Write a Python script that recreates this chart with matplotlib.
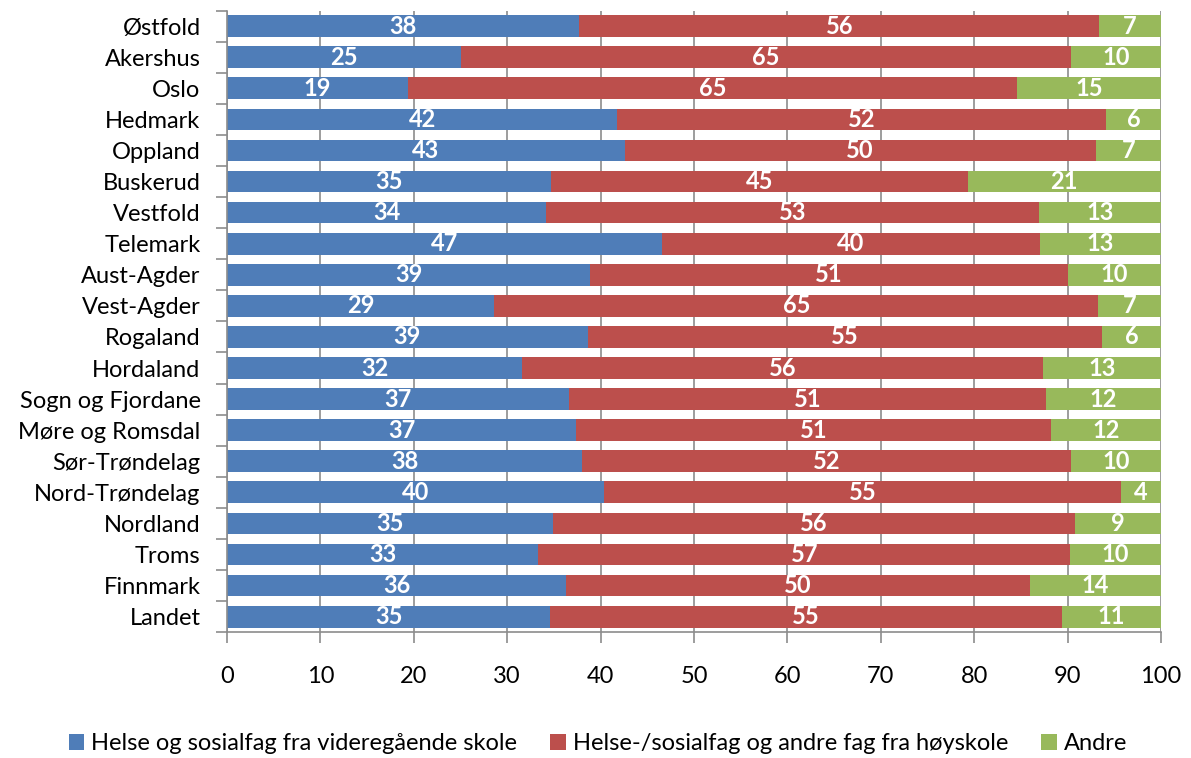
import matplotlib
matplotlib.use("Agg")
import matplotlib.pyplot as plt
import numpy as np

counties = [
    "Østfold", "Akershus", "Oslo", "Hedmark", "Oppland", "Buskerud", "Vestfold",
    "Telemark", "Aust-Agder", "Vest-Agder", "Rogaland", "Hordaland",
    "Sogn og Fjordane", "Møre og Romsdal", "Sør-Trøndelag", "Nord-Trøndelag",
    "Nordland", "Troms", "Finnmark", "Landet",
]
vgs = [37.7, 25.0, 19.4, 41.8, 42.6, 34.7, 34.2, 46.6, 38.9, 28.6,
       38.6, 31.6, 36.6, 37.4, 38.0, 40.4, 34.9, 33.3, 36.3, 34.6]
hoyskole = [55.7, 65.4, 65.2, 52.3, 50.4, 44.6, 52.7, 40.4, 51.1, 64.7,
            55.1, 55.8, 51.1, 50.8, 52.4, 55.3, 55.9, 57.0, 49.7, 54.8]
andre = [6.6, 9.6, 15.4, 5.9, 7.0, 20.7, 13.1, 13.0, 10.0, 6.7,
         6.3, 12.6, 12.3, 11.8, 9.6, 4.3, 9.2, 9.7, 14.0, 10.6]
series_names = [
    "Helse og sosialfag fra videregående skole",
    "Helse-/sosialfag og andre fag fra høyskole",
    "Andre",
]
colors = ["#4F7DB8", "#BC4F4C", "#98B95B"]

plt.rcParams["font.family"] = ["Lato", "DejaVu Sans"]
FS = 17

fig = plt.figure(figsize=(11.91, 7.58), dpi=100)
ax = fig.add_axes([0.1906, 0.166, 0.7842, 0.820])

y = np.arange(len(counties))
left = np.zeros(len(counties))
for vals, name, col in zip([vgs, hoyskole, andre], series_names, colors):
    vals = np.array(vals)
    ax.barh(y, vals, left=left, height=0.7, color=col, label=name, zorder=2)
    for yi, l, v in zip(y, left, vals):
        ax.text(l + v / 2, yi, f"{v:.0f}", ha="center", va="center",
                color="white", fontsize=FS, fontweight="bold", zorder=3)
    left = left + vals

ax.set_xlim(0, 100)
ax.set_ylim(len(counties) - 0.5, -0.5)
ax.set_xticks(np.arange(0, 101, 10))
ax.set_yticks(y)
ax.set_yticklabels(counties, fontsize=FS)
ax.tick_params(axis="x", labelsize=FS, length=8, width=1.2, color="#8C8C8C", pad=16)
ax.tick_params(axis="y", length=0, pad=19)
ax.set_yticks(np.arange(-0.5, len(counties), 1), minor=True)
ax.tick_params(axis="y", which="minor", length=8, width=1.2, color="#8C8C8C")
ax.grid(axis="x", color="#8C8C8C", linewidth=1.2, zorder=0)
ax.set_axisbelow(True)
for side in ["top", "right"]:
    ax.spines[side].set_visible(False)
for side in ["left", "bottom"]:
    ax.spines[side].set_color("#8C8C8C")
    ax.spines[side].set_linewidth(1.2)

fig.legend(loc="lower center", bbox_to_anchor=(0.502, -0.014), ncol=3, frameon=False,
           fontsize=FS, handlelength=0.65, handleheight=0.65, handletextpad=0.3,
           columnspacing=1.4, borderaxespad=0.2)

fig.savefig("out.png", dpi=100)
